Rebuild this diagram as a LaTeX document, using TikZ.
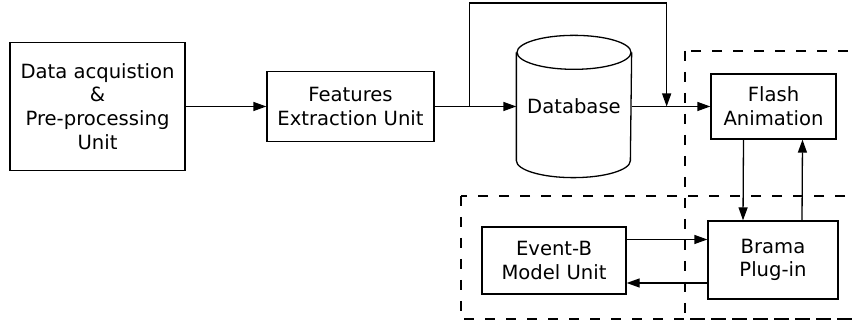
\documentclass[tikz,border=0pt]{standalone}
\usepackage{fontspec}
\setmainfont{DejaVu Sans}
\usetikzlibrary{arrows.meta,calc}
\tikzset{
    unit/.style={draw,align=center,inner sep=0pt,font=\fontsize{9.8}{11.8}\selectfont},
    arr/.style={-{Triangle[length=6.5pt,width=4.5pt]}},
    group/.style={dash pattern=on 5pt off 5.5pt}
}
\begin{document}
\begin{tikzpicture}[x=0.5pt,y=-0.5pt,line width=0.65pt]
    \useasboundingbox (0,0) rectangle (856,324);
    \def\rx{28.5pt}
    \def\ry{8.5pt}
    \draw[group] (461,196) rectangle (866,319);
    \draw[group] (685,51) rectangle (866,319);
    \node[unit,minimum width=87.5pt,minimum height=64pt] (acq) at (97.5,106.5) {Data acquistion\\\&\\Pre-processing\\Unit};
    \node[unit,minimum width=83.5pt,minimum height=35pt] (feat) at (350.5,106.5) {Features\\Extraction Unit};
    \node[unit,draw=none,minimum width=57pt,minimum height=70.5pt] (db) at (574,106.5) {Database};
    \node[unit,minimum width=62.5pt,minimum height=32.5pt] (flash) at (773.5,106.5) {Flash\\Animation};
    \node[unit,minimum width=65pt,minimum height=39pt] (brama) at (773,260) {Brama\\Plug-in};
    \node[unit,minimum width=72pt,minimum height=33.5pt] (event) at (554,260.5) {Event-B\\Model Unit};
    \draw ([yshift=-\ry]db.north) ellipse[x radius=\rx,y radius=\ry];
    \draw ([yshift=-\ry]db.north west) -- ([yshift=\ry]db.south west)
        arc[start angle=180,end angle=360,x radius=\rx,y radius=\ry]
        -- ([yshift=-\ry]db.north east);
    \coordinate (split) at ([xshift=17.5pt]feat.east);
    \coordinate (merge) at ([xshift=17.5pt]db.east);
    \coordinate (top) at (0,3);
    \coordinate (send) at ([yshift=10.5pt]event.east);
    \coordinate (back) at ([yshift=-11.5pt]brama.west);
    \draw[arr] (acq) -- (feat);
    \draw[arr] (feat) -- (db);
    \draw[arr] (db) -- (flash);
    \draw[arr] (split) |- (top -| merge) -- (merge);
    \draw[arr] ([xshift=-15pt]flash.south) -- ([xshift=-15pt]brama.north);
    \draw[arr] ([xshift=14.5pt]brama.north) -- ([xshift=14.5pt]flash.south);
    \draw[arr] (send) -- (send -| brama.west);
    \draw[arr] (back) -- (back -| event.east);
\end{tikzpicture}
\end{document}
